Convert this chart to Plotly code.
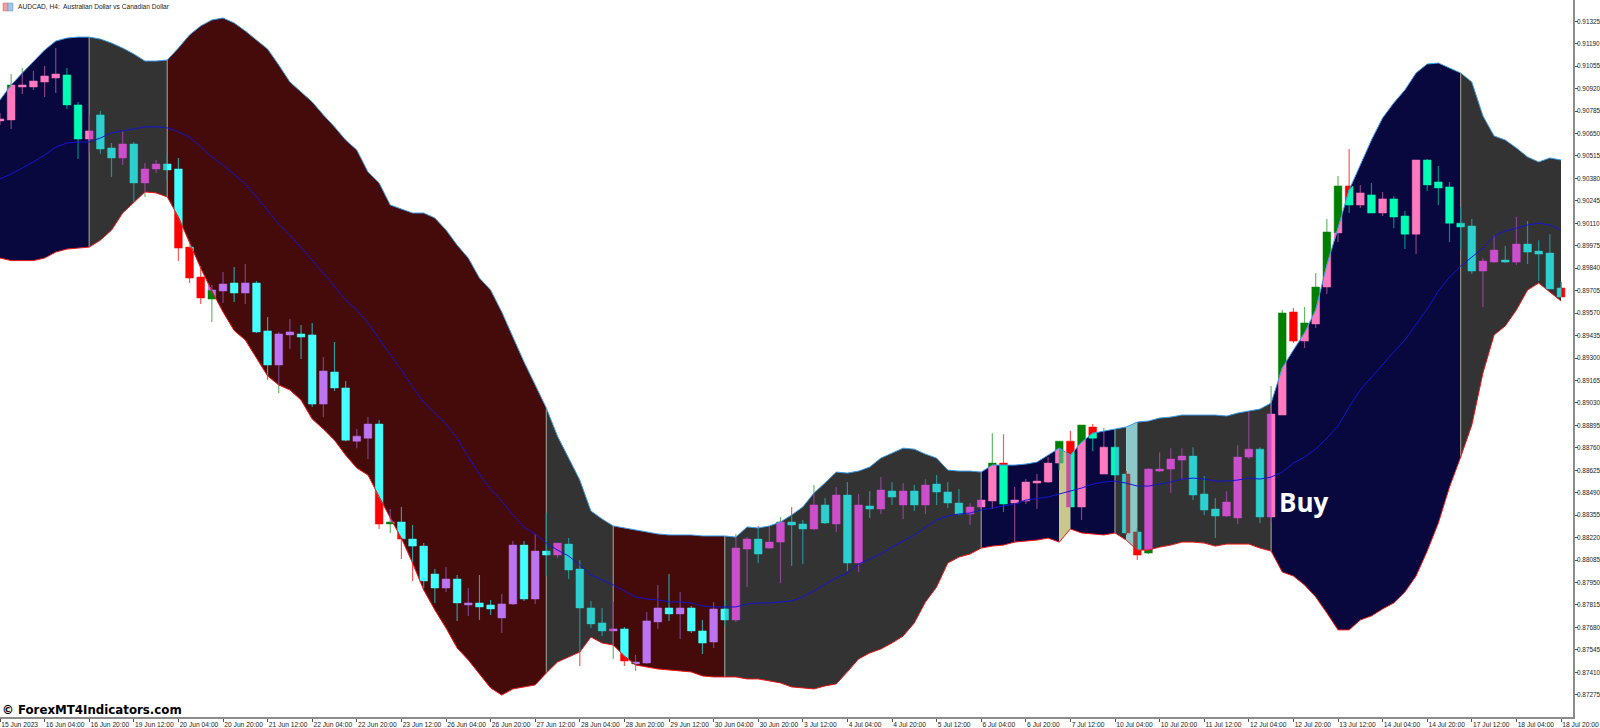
import numpy as np
import plotly.graph_objects as go

# Prices are held in points (1 point = 0.00001 CAD)
open_pts = [
90726,90732,90930,90930,90960,90984,91002,90822,90617,90762,
90563,90503,90587,90353,90437,90467,90437,89967,89787,89655,
89703,89751,89691,89751,89463,89258,89439,89445,89439,89023,
89216,89120,88800,88818,88903,88302,88314,88211,88169,88001,
87917,87971,87815,87827,87815,87737,87821,88175,87851,88139,
88115,88181,88031,87797,87707,87659,87671,87460,87466,87713,
87797,87761,87797,87659,87592,87791,87725,88151,88211,88157,
88193,88314,88302,88272,88416,88302,88476,88067,88410,88392,
88500,88416,88500,88416,88542,88494,88428,88362,88404,88440,
88668,88428,88440,88548,88554,88668,88800,88404,88885,88602,
88764,88602,88254,88127,88620,88632,88686,88710,88482,88392,
88350,88338,88704,88752,88344,88957,89577,89402,89505,89727,
90052,90335,90220,90281,90172,90257,90154,90045,90491,90359,
90329,90111,90094,89823,89877,89889,89877,89985,89943,89931,
89721]
high_pts = [
90774,91008,91044,91026,91056,91164,91044,90840,90762,90786,
90593,90666,90599,90473,90491,90528,90503,90003,89853,89739,
89817,89847,89865,89763,89547,89457,89535,89499,89511,89306,
89396,89162,88873,88945,88927,88392,88404,88296,88187,88031,
88043,87995,87917,87995,87845,87881,88199,88199,88242,88368,
88187,88217,88085,87839,87797,87833,87683,87514,87773,87935,
88001,87893,87809,87725,87833,87845,88242,88223,88290,88290,
88344,88404,88326,88536,88458,88524,88554,88482,88500,88584,
88554,88548,88536,88572,88596,88554,88512,88428,88458,88848,
88842,88524,88572,88602,88704,88800,88861,88897,88903,88879,
88873,88620,88278,88638,88734,88758,88758,88764,88590,88458,
88500,88776,88981,88764,89132,89589,89601,89607,89811,90136,
90395,90557,90341,90353,90299,90275,90184,90491,90497,90455,
90359,90208,90136,89901,90039,89973,90148,90124,90009,90045,
89757]
low_pts = [
90702,90678,90888,90912,90870,90894,90798,90497,90534,90528,
90389,90461,90238,90269,90413,90371,89883,89751,89625,89517,
89631,89637,89625,89451,89168,89090,89354,89294,89005,88945,
89102,88800,88758,88692,88271,88248,88091,87959,87917,87827,
87893,87719,87749,87725,87755,87647,87815,87839,87821,87989,
88097,87971,87448,87676,87628,87490,87448,87418,87460,87671,
87719,87610,87647,87520,87556,87695,87713,87923,88067,88151,
87947,88049,88061,88266,88302,88254,88019,88013,88338,88362,
88416,88332,88380,88362,88416,88398,88356,88296,88398,88392,
88374,88187,88422,88392,88548,88626,88404,88326,88740,88602,
88596,88236,88085,88121,88614,88488,88566,88446,88356,88217,
88344,88302,88692,88308,88308,88957,89390,89360,89481,89685,
89997,90172,90202,90172,90154,90081,89955,89925,90305,90220,
89997,89949,89805,89607,89871,89871,89859,89865,89763,89715,
89667]
close_pts = [
90738,90942,90942,90966,90996,91008,90822,90617,90666,90557,
90503,90587,90353,90437,90467,90431,89961,89781,89661,89709,
89745,89691,89751,89457,89258,89445,89457,89426,89023,89222,
89120,88806,88830,88903,88302,88314,88211,88169,87959,87917,
87971,87827,87827,87803,87791,87821,88175,87851,88139,88115,
88187,88025,87797,87701,87659,87671,87478,87472,87719,87797,
87761,87797,87659,87586,87791,87725,88157,88211,88121,88193,
88314,88296,88272,88416,88308,88476,88067,88416,88392,88506,
88464,88500,88416,88536,88494,88428,88362,88404,88446,88668,
88422,88446,88554,88560,88668,88800,88404,88897,88818,88764,
88596,88248,88115,88632,88632,88692,88710,88476,88386,88350,
88434,88704,88752,88344,88963,89571,89402,89511,89727,90058,
90335,90220,90293,90172,90257,90148,90045,90491,90341,90323,
90111,90088,89823,89883,89949,89877,89985,89937,89925,89715,
89667]
upper_pts = [
90852,90942,91014,91080,91152,91206,91224,91230,91230,91218,
91194,91164,91128,91086,91086,91092,91164,91243,91297,91333,
91345,91315,91267,91212,91158,91062,90960,90900,90840,90762,
90690,90611,90551,90419,90353,90220,90196,90172,90172,90142,
90070,89979,89901,89781,89709,89577,89426,89276,89138,88999,
88830,88698,88566,88380,88332,88290,88278,88266,88254,88242,
88236,88236,88236,88230,88230,88230,88223,88284,88278,88290,
88314,88356,88404,88488,88548,88614,88608,88620,88644,88698,
88728,88758,88752,88722,88698,88626,88620,88620,88614,88656,
88656,88656,88662,88674,88716,88758,88716,88794,88848,88861,
88873,88885,88915,88921,88939,88945,88957,88957,88957,88957,
88951,88969,88981,88993,89029,89240,89348,89451,89589,89859,
90081,90311,90461,90611,90744,90834,90912,91014,91068,91074,
91044,91014,90960,90756,90635,90611,90563,90509,90479,90503,
90491]
lower_pts = [
89901,89886,89886,89886,89901,89937,89955,89961,89967,90009,
90069,90172,90238,90299,90293,90269,90148,89991,89841,89703,
89577,89465,89408,89300,89192,89138,89108,89047,88933,88873,
88806,88716,88638,88596,88464,88338,88217,88067,87905,87785,
87676,87556,87484,87400,87316,87273,87310,87322,87334,87406,
87472,87502,87532,87622,87586,87574,87508,87454,87442,87430,
87424,87418,87412,87388,87382,87382,87382,87370,87370,87358,
87346,87322,87316,87310,87328,87340,87412,87490,87526,87550,
87586,87628,87707,87833,87923,88067,88103,88121,88157,88169,
88175,88193,88199,88205,88217,88193,88272,88248,88242,88236,
88248,88205,88145,88145,88163,88175,88193,88193,88187,88169,
88181,88181,88181,88157,88139,88013,87989,87935,87863,87767,
87665,87665,87725,87749,87791,87827,87893,87989,88139,88308,
88524,88704,88897,89210,89439,89493,89589,89709,89751,89697,
89643]
middle_pts = [
90377,90407,90443,90479,90521,90569,90593,90599,90599,90623,
90654,90666,90678,90690,90690,90684,90660,90629,90569,90509,
90461,90401,90347,90269,90184,90106,90039,89967,89889,89811,
89727,89649,89589,89511,89415,89324,89228,89126,89035,88969,
88903,88818,88704,88602,88512,88440,88356,88284,88242,88187,
88145,88109,88055,87995,87965,87935,87899,87863,87851,87845,
87833,87833,87827,87809,87803,87803,87803,87821,87827,87827,
87833,87839,87863,87899,87941,87977,88007,88061,88091,88121,
88163,88199,88236,88284,88326,88350,88362,88368,88386,88398,
88410,88422,88446,88455,88464,88482,88500,88518,88542,88554,
88560,88548,88530,88530,88542,88554,88572,88578,88572,88560,
88560,88566,88578,88572,88584,88614,88668,88704,88752,88818,
88891,89005,89108,89186,89264,89336,89408,89499,89595,89703,
89787,89853,89907,89961,90033,90064,90081,90100,90111,90100,
90069]

zone_edges = [0, 8, 15, 49, 55, 65, 88, 95, 96, 100, 101, 102, 114, 131, 140]
zone_kinds = ["navy", "grey", "maroon", "grey", "maroon", "grey", "navy", "tan",
              "navy", "grey", "pale", "grey", "navy", "grey"]
divider_bars = [8, 15, 49, 55, 65, 88, 100, 114, 131]

x_labels = ["15 Jun 2023", "16 Jun 04:00", "16 Jun 20:00", "19 Jun 12:00", "20 Jun 04:00", "20 Jun 20:00",
            "21 Jun 12:00", "22 Jun 04:00", "22 Jun 20:00", "23 Jun 12:00", "26 Jun 04:00", "26 Jun 20:00",
            "27 Jun 12:00", "28 Jun 04:00", "28 Jun 20:00", "29 Jun 12:00", "30 Jun 04:00", "30 Jun 20:00",
            "3 Jul 12:00", "4 Jul 04:00", "4 Jul 20:00", "5 Jul 12:00", "6 Jul 04:00", "6 Jul 20:00",
            "7 Jul 12:00", "10 Jul 04:00", "10 Jul 20:00", "11 Jul 12:00", "12 Jul 04:00", "12 Jul 20:00",
            "13 Jul 12:00", "14 Jul 04:00", "14 Jul 20:00", "17 Jul 12:00", "18 Jul 04:00", "18 Jul 20:00"]
y_labels = ["0.91325", "0.91190", "0.91055", "0.90920", "0.90785", "0.90650", "0.90515", "0.90380",
            "0.90245", "0.90110", "0.89975", "0.89840", "0.89705", "0.89570", "0.89435", "0.89300",
            "0.89165", "0.89030", "0.88895", "0.88760", "0.88625", "0.88490", "0.88355", "0.88220",
            "0.88085", "0.87950", "0.87815", "0.87680", "0.87545", "0.87410", "0.87275"]

ZONE_FILL = {"navy": "#08083F", "grey": "#333333", "maroon": "#450A0A", "tan": "#C8C88C", "pale": "#8CC8C8"}
BODY = {"navy": ("#FF7ABF", "#00FFB4"), "grey": ("#CC4FCC", "#2ECFCF"), "maroon": ("#BC75F0", "#44FFFF"),
        "tan": ("#3CAD73", "#C950A6"), "pale": ("#8A4545", "#8A4545")}
WICK = {"navy": ("#8A4080", "#008A80"), "grey": ("#8A4590", "#2A8F8F"), "maroon": ("#7A4090", "#2F9A9F"),
        "tan": ("#3CAD73", "#C950A6"), "pale": ("#8A4545", "#8A4545")}
BASE_BODY = ("#008000", "#FF0000")
BASE_WICK = ("#6AB86A", "#FF5A5A")
HALF = 0.345

P = 1e-5
o, h, l, c = [np.array(a) * P for a in (open_pts, high_pts, low_pts, close_pts)]
up, lo, mid = [np.array(a) * P for a in (upper_pts, lower_pts, middle_pts)]
n = len(o)
xs = np.arange(n)


def zone_at(x):
    for k in range(len(zone_kinds)):
        if zone_edges[k] <= x < zone_edges[k + 1]:
            return zone_kinds[k]
    return None


fig = go.Figure()


def add_poly(px, py, color):
    fig.add_trace(go.Scatter(x=px, y=py, mode="lines", fill="toself", fillcolor=color,
                             line=dict(color=color, width=0.5), hoverinfo="skip", showlegend=False))


def add_lines(px, py, color, width=1.2):
    fig.add_trace(go.Scatter(x=px, y=py, mode="lines", line=dict(color=color, width=width),
                             connectgaps=False, hoverinfo="skip", showlegend=False))


# full candles in their plain colours: only what lies outside the band stays visible
for d, is_bear in enumerate([False, True]):
    wx, wy, bx, by = [], [], [], []
    for i in range(n):
        if (c[i] < o[i]) != is_bear:
            continue
        wx += [i, i, None]
        wy += [l[i], h[i], None]
        t, b = max(o[i], c[i]), min(o[i], c[i])
        bx += [i - HALF, i + HALF, i + HALF, i - HALF, i - HALF, None]
        by += [t, t, b, b, t, None]
    add_lines(wx, wy, BASE_WICK[d])
    add_poly(bx, by, BASE_BODY[d])

# band zones
for k, kind in enumerate(zone_kinds):
    a, b = zone_edges[k], zone_edges[k + 1]
    px = list(xs[a:b + 1]) + list(xs[a:b + 1][::-1]) + [a]
    py = list(up[a:b + 1]) + list(lo[a:b + 1][::-1]) + [up[a]]
    fig.add_trace(go.Scatter(x=px, y=py, mode="lines", fill="toself", fillcolor=ZONE_FILL[kind],
                             line=dict(width=0), hoverinfo="skip", showlegend=False))

# zone dividers
dx, dy = [], []
for i in divider_bars:
    dx += [i, i, None]
    dy += [lo[i], up[i], None]
add_lines(dx, dy, "#8A8A80", 1.3)

# candle parts inside the band, tinted by the zone behind each half
groups = {}
for i in range(n):
    bear = c[i] < o[i]
    d = 1 if bear else 0
    t, b = max(o[i], c[i]), min(o[i], c[i])
    for x0, x1, probe in ((i - HALF, i, i - 0.1), (i, i + HALF, i + 0.1)):
        kind = zone_at(probe)
        if kind is None or probe < 0:
            continue
        tops = [min(t, np.interp(x, xs, up)) for x in (x0, x1)]
        bots = [max(b, np.interp(x, xs, lo)) for x in (x0, x1)]
        if tops[0] <= bots[0] and tops[1] <= bots[1]:
            continue
        g = groups.setdefault((kind, d), [[], []])
        g[0] += [x0, x1, x1, x0, x0, None]
        g[1] += [tops[0], tops[1], bots[1], bots[0], tops[0], None]
    kind = zone_at(i + 0.1) or zone_at(i - 0.1)
    wt, wb = min(h[i], up[i]), max(l[i], lo[i])
    if kind and wt > wb:
        g = groups.setdefault((kind, d, "w"), [[], []])
        g[0] += [i, i, None]
        g[1] += [wb, wt, None]
for key, (gx, gy) in groups.items():
    if len(key) == 3:
        add_lines(gx, gy, WICK[key[0]][key[1]])
for key, (gx, gy) in groups.items():
    if len(key) == 2:
        add_poly(gx, gy, BODY[key[0]][key[1]])

add_lines(xs, mid, "#1414D2", 1)
add_lines(xs, up, "#3C9BE6", 1)
add_lines(xs, lo, "#F01414", 1)

PLOT_W, PLOT_H = 1573, 717
BAR_PX = 11.15
Y_TOP, Y_BOTTOM = 0.914531, 0.871411

fig.update_layout(
    width=1600, height=728, margin=dict(l=0, r=27, t=0, b=11, autoexpand=False),
    plot_bgcolor="white", paper_bgcolor="white", showlegend=False,
    font=dict(family="Liberation Sans", size=7, color="#222222"),
    xaxis=dict(range=[0, PLOT_W / BAR_PX], showgrid=False, zeroline=False, tickmode="array", automargin=False,
               tickvals=list(range(0, n, 4)), ticktext=x_labels, ticks="outside", ticklen=3, tickcolor="#555555",
               tickwidth=1, showline=True, linecolor="#8C8C8C", linewidth=1.5, ticklabelposition="outside right",
               tickangle=0, tickfont=dict(family="Liberation Sans", size=6.7, color="#222222")),
    yaxis=dict(range=[Y_BOTTOM, Y_TOP], side="right", showgrid=False, zeroline=False, tickmode="array",
               automargin=False, tickvals=[float(s) for s in y_labels], ticktext=y_labels, ticks="outside",
               ticklen=3, tickcolor="#555555", tickwidth=1, showline=True, linecolor="#8C8C8C", linewidth=1.5,
               ticklabelstandoff=-2, tickfont=dict(family="Liberation Sans", size=6.4, color="#222222")),
    annotations=[
        dict(text="AUDCAD, H4:  Australian Dollar vs Canadian Dollar", xref="paper", yref="paper",
             x=16 / PLOT_W, y=1 - 7 / PLOT_H, xanchor="left", yanchor="middle", showarrow=False,
             font=dict(family="Liberation Sans", size=6.6, color="#222222")),
        dict(text="© ForexMT4Indicators.com", xref="paper", yref="paper", x=0 / PLOT_W, y=(PLOT_H - 710) / PLOT_H,
             xanchor="left", yanchor="middle", showarrow=False,
             font=dict(family="DejaVu Sans", size=11.8, color="#000000", weight="bold")),
        dict(text="<b>Buy</b>", xref="x", yref="y", x=114.5, y=0.88434, xanchor="left", yanchor="middle",
             showarrow=False, font=dict(family="Open Sans", size=26, color="#FFFFFF")),
    ],
    shapes=[
        dict(type="rect", xref="paper", yref="paper", x0=3 / PLOT_W, x1=8 / PLOT_W, y0=1 - 11 / PLOT_H,
             y1=1 - 3 / PLOT_H, fillcolor="#F0A0A0", line=dict(color="#D06060", width=0.5), layer="above"),
        dict(type="rect", xref="paper", yref="paper", x0=8 / PLOT_W, x1=13 / PLOT_W, y0=1 - 11 / PLOT_H,
             y1=1 - 3 / PLOT_H, fillcolor="#A0C8E8", line=dict(color="#6090C0", width=0.5), layer="above"),
    ],
)
fig.write_html("out.html", config=dict(displayModeBar=False),
               post_script="document.body.style.margin='0';document.body.style.overflow='hidden';")
